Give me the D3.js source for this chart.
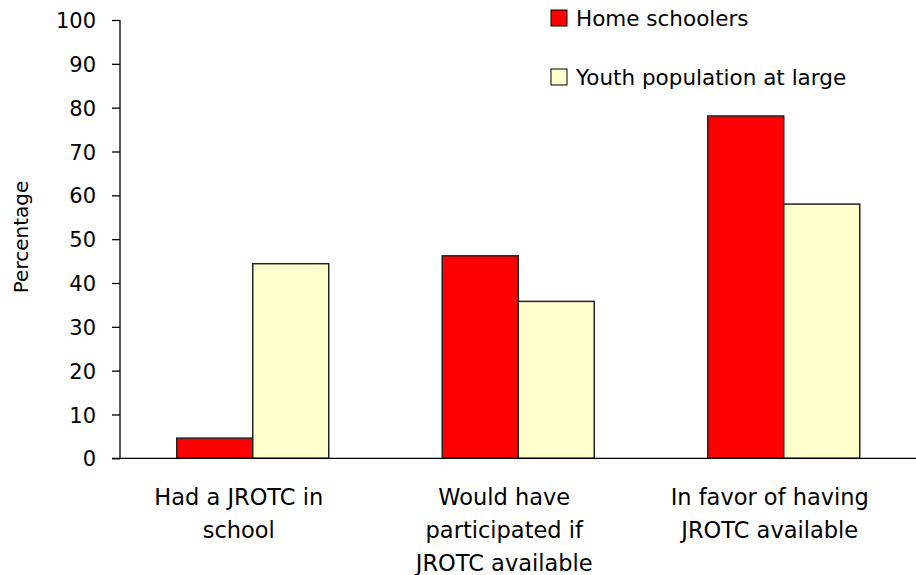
<!DOCTYPE html>
<html><head><meta charset="utf-8">
<script src="https://cdn.jsdelivr.net/npm/d3@7/dist/d3.min.js"></script>
<style>body{margin:0;background:#fff}svg{display:block}text{font-family:"DejaVu Sans",sans-serif;fill:#000}</style>
</head><body><svg id="c" width="916" height="575"></svg>
<script>
const categories = [
  ["Had a JROTC in", "school"],
  ["Would have", "participated if", "JROTC available"],
  ["In favor of having", "JROTC available"]
];
const seriesNames = ["Home schoolers", "Youth population at large"];
const homeSchoolers = [4.6, 46.2, 78.1];
const youthPopulation = [44.4, 35.8, 58.0];
const seriesColors = ["#ff0000", "#ffffcc"];
const yTicks = [0,10,20,30,40,50,60,70,80,90,100];

const svg = d3.select("#c");
const x0 = d3.scaleBand().domain(d3.range(categories.length)).range([120, 916.5]).paddingInner(0).paddingOuter(0);
const x1 = d3.scaleBand().domain([0,1]).range([0, x0.bandwidth()]).paddingInner(0).paddingOuter(0.7467);
const y = d3.scaleLinear().domain([0,100]).range([458.3, 20]);

const values = [homeSchoolers, youthPopulation];

// bars
values.forEach((vals, s) => {
  svg.append("g").selectAll("rect").data(vals).join("rect")
    .attr("x", (d,i) => x0(i) + x1(s))
    .attr("y", d => y(d))
    .attr("width", x1.bandwidth())
    .attr("height", d => y(0) - y(d))
    .attr("fill", seriesColors[s])
    .attr("stroke", "#222")
    .attr("stroke-width", 1.5);
});

// y axis
const yAxis = d3.axisLeft(y).tickValues(yTicks).tickSize(8).tickPadding(16);
const gy = svg.append("g").attr("transform", "translate(120,0)").call(yAxis);
gy.select(".domain").attr("stroke", "#000").attr("stroke-width", 1.3).attr("d", `M0,${y(100)}V${y(0)}`);
gy.selectAll(".tick line").attr("stroke", "#000").attr("stroke-width", 1.3);
gy.selectAll(".tick text").style("font-family", '"DejaVu Sans",sans-serif').style("font-size", "21px").attr("fill", "#000").attr("dy", "0.36em");

// baseline
svg.append("line").attr("x1", 112).attr("x2", 916).attr("y1", y(0)).attr("y2", y(0)).attr("stroke", "#000").attr("stroke-width", 1.3);

// category labels
const gl = svg.append("g");
categories.forEach((lines, i) => {
  const cx = x0(i) + x0.bandwidth()/2 - 14;
  const t = gl.append("text").attr("text-anchor", "middle")
    .attr("x", cx).attr("y", 505)
    .style("font-size", "22.5px");
  lines.forEach((ln, k) => t.append("tspan").attr("x", cx).attr("y", 505 + k*33).text(ln));
});

// y label
svg.append("text").attr("transform", "translate(28,237) rotate(-90)").attr("text-anchor", "middle")
  .style("font-size", "20px").text("Percentage");

// legend
const lg = svg.append("g");
seriesNames.forEach((n, s) => {
  const yy = 10 + s*59;
  lg.append("rect").attr("x", 551).attr("y", yy).attr("width", 16).attr("height", 16)
    .attr("fill", seriesColors[s]).attr("stroke", "#000").attr("stroke-width", 1);
  lg.append("text").attr("x", 576).attr("y", yy + 16).style("font-size", "21.5px").text(n);
});
</script></body></html>
